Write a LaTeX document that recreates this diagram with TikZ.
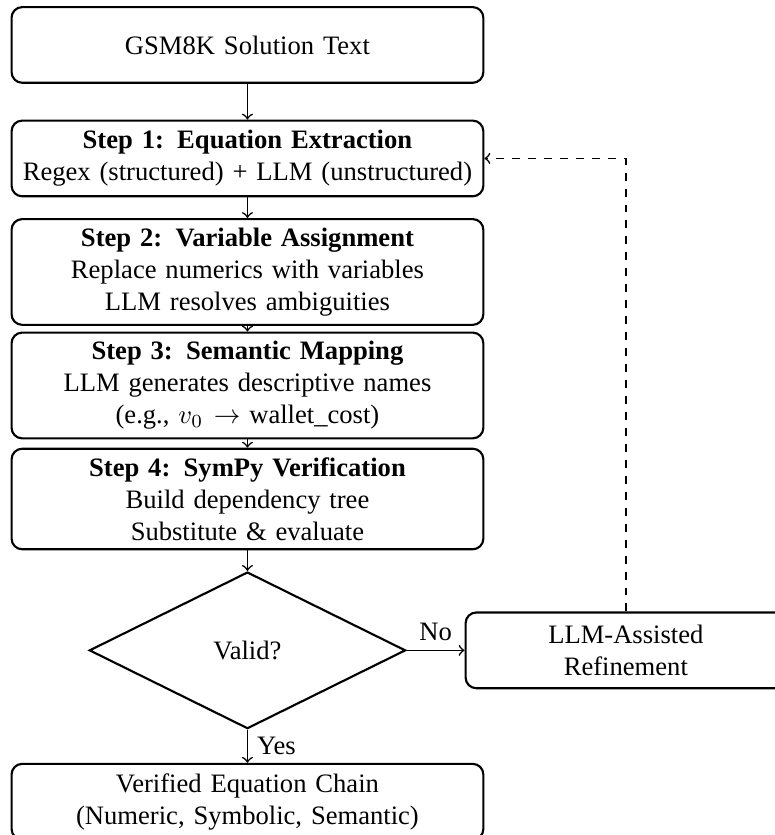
\documentclass[tikz,border=0pt]{standalone}
\usepackage{fontspec}
\setmainfont{Liberation Serif}
\usetikzlibrary{shapes.geometric}
\begin{document}
\begin{tikzpicture}
[
  stepbox/.style = {draw, thick, rounded corners, text width=6cm, align=center, minimum height=1cm},
  sidebox/.style = {draw, thick, rounded corners, text width=4cm, align=center, minimum height=1cm},
  check/.style = {draw, thick, diamond, aspect=2, minimum width=4.18cm, minimum height=2.07cm, inner sep=0pt},
  flow/.style = {->, semithick},
]
\def\gap{1.5}
\useasboundingbox (-3.27,0.594) rectangle (6.97,-10.44);

%pipeline
\node[stepbox] (src) at (0,0) {GSM8K Solution Text};
\node[stepbox] (extract) at (0,-\gap) {\textbf{Step 1: Equation Extraction}\\Regex (structured) + LLM (unstructured)};
\node[stepbox] (assign) at (0,-2*\gap) {\textbf{Step 2: Variable Assignment}\\Replace numerics with variables\\LLM resolves ambiguities};
\node[stepbox] (mapping) at (0,-3*\gap) {\textbf{Step 3: Semantic Mapping}\\LLM generates descriptive names\\(e.g., $v_0$\hspace{4pt}$\rightarrow$ wallet\_cost)};
\node[stepbox] (verify) at (0,-4*\gap) {\textbf{Step 4: SymPy Verification}\\Build dependency tree\\Substitute \& evaluate};

%decision
\node[check] (valid) at (0,-8) {Valid?};
\node[sidebox] (refine) at (5,-8) {LLM-Assisted\\Refinement};
\node[stepbox] (chain) at (0,-10) {Verified Equation Chain\\(Numeric, Symbolic, Semantic)};

\draw[flow] (src) -- (extract);
\draw[flow] (extract) -- (assign);
\draw[flow] (assign) -- (mapping);
\draw[flow] (mapping) -- (verify);
\draw[flow] (verify) -- (valid);
\draw[flow] (valid) -- node[above]{No} (refine);
\draw[flow] (valid) -- node[right]{Yes} (chain);
%loop back
\draw[flow, dashed] (refine.north) |- (extract.east);
\end{tikzpicture}
\end{document}
